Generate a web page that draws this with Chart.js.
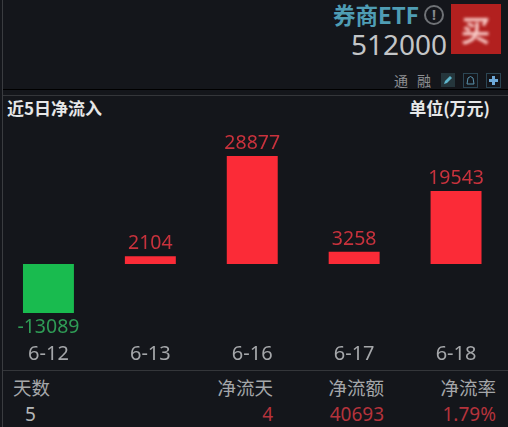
<!DOCTYPE html>
<html><head><meta charset="utf-8">
<script src="https://cdn.jsdelivr.net/npm/chart.js@4/dist/chart.umd.min.js"></script>
<style>
html,body{margin:0;padding:0;background:#14161b;overflow:hidden}
#wrap{position:relative;width:508px;height:427px;background:#14161b;overflow:hidden;font-family:"Noto Sans CJK SC","Noto Sans",sans-serif}
#wrap *{box-sizing:border-box}
.t{position:absolute;white-space:nowrap;line-height:1}
.ln{position:absolute;left:3px;right:0}
canvas{position:absolute;left:-3px;top:100px}
</style></head><body>
<div id="wrap">
<div style="position:absolute;left:2px;top:0;bottom:0;width:1px;background:#3a3c40"></div>
<div class="t" style="right:89px;top:3px;font-size:22.5px;font-weight:700;color:#4f9db4">券商ETF</div>
<div style="position:absolute;left:424px;top:5px;width:20px;height:20px;border:2px solid #6f7276;border-radius:50%;color:#85888c;font:700 14px/16px 'Noto Sans';text-align:center">!</div>
<div class="t" style="right:61px;top:30px;font-size:28px;color:#c3c5c7;font-family:'Noto Sans'">512000</div>
<div style="position:absolute;left:451px;top:4px;width:50px;height:50px;background:#b2201f"></div>
<div class="t" style="left:461px;top:15px;font-size:29px;color:#f7c9c5;font-weight:700;filter:blur(1.5px)">买</div>
<div class="t" style="left:394px;top:73px;font-size:14px;color:#8d8f92">通</div>
<div class="t" style="left:417px;top:73px;font-size:14px;color:#8d8f92">融</div>
<div style="position:absolute;left:441px;top:73px;width:14px;height:14px;background:#25363c"><svg width="14" height="14" style="display:block"><path d="M3 11 L4 8 L9 3 L11 5 L6 10 Z" fill="#5fb6cc"/></svg></div>
<div style="position:absolute;left:463px;top:73px;width:15px;height:15px;border:1px solid #2c4654"><svg width="13" height="13" style="display:block"><path d="M3 10 L4 4 Q6.5 1 9 4 L10 10 Z" fill="none" stroke="#5b93ae"/></svg></div>
<div style="position:absolute;left:486px;top:73px;width:15px;height:15px;border:1px solid #2c4654"><svg width="13" height="13" style="display:block"><path d="M6.5 2 V11 M2 6.5 H11" stroke="#6ea9d8" stroke-width="3"/></svg></div>
<div class="ln" style="top:89px;height:1px;background:#000"></div>
<div class="ln" style="top:95px;height:1px;background:#34363a"></div>
<div class="t" style="left:7px;top:99px;font-size:17px;font-weight:700;color:#e6e7e8">近5日净流入</div>
<div class="t" style="right:18px;top:99px;font-size:17px;font-weight:700;color:#e6e7e8">单位(万元)</div>
<canvas id="c" width="510" height="270" style="width:510px;height:270px"></canvas>
<div class="ln" style="top:370px;height:1px;background:#34363a"></div>
<div class="t" style="left:13px;top:378px;font-size:18.5px;color:#a5a7aa">天数</div>
<div class="t" style="right:235px;top:378px;font-size:18.5px;color:#a5a7aa">净流天</div>
<div class="t" style="right:124px;top:378px;font-size:18.5px;color:#a5a7aa">净流额</div>
<div class="t" style="right:12px;top:378px;font-size:18.5px;color:#a5a7aa">净流率</div>
<div class="t" style="left:25px;top:405px;font-size:19px;color:#b4b6b8;font-family:'Noto Sans'">5</div>
<div class="t" style="right:235px;top:405px;font-size:19px;color:#b5333c;font-family:'Noto Sans'">4</div>
<div class="t" style="right:124px;top:405px;font-size:19px;color:#b5333c;font-family:'Noto Sans'">40693</div>
<div class="t" style="right:12px;top:405px;font-size:19px;color:#b5333c;font-family:'Noto Sans'">1.79%</div>
</div>
<script>
const categories = ["6-12","6-13","6-16","6-17","6-18"];
const netInflow = [-13089,2104,28877,3258,19543];
const upColor = "#fb2b37";
const downColor = "#19bb4f";
const labelPlugin = {
  id:"valueLabels",
  afterDatasetsDraw(chart){
    const ctx = chart.ctx, meta = chart.getDatasetMeta(0);
    ctx.save();
    ctx.font = "19.5px 'Noto Sans'";
    ctx.textAlign = "center";
    meta.data.forEach((bar,i)=>{
      const v = netInflow[i];
      ctx.fillStyle = v<0 ? "#2f9c56" : "#c8323c";
      if(v<0){ctx.textBaseline="top";ctx.fillText(String(v),bar.x,bar.y+5);}
      else{ctx.textBaseline="bottom";ctx.fillText(String(v),bar.x,bar.y-3);}
    });
    ctx.restore();
  }
};
new Chart(document.getElementById("c"),{
  type:"bar",
  data:{labels:categories,datasets:[{data:netInflow,
    backgroundColor:netInflow.map(v=>v<0?downColor:upColor),
    barPercentage:0.5,categoryPercentage:1,borderWidth:0}]},
  plugins:[labelPlugin],
  options:{
    responsive:false,animation:false,devicePixelRatio:1,
    layout:{padding:{left:0.5,right:0,top:0,bottom:0}},
    plugins:{legend:{display:false},tooltip:{enabled:false}},
    scales:{
      x:{grid:{display:false},border:{display:false},
        afterFit(s){s.height=36;},
        ticks:{color:"#a5a7aa",font:{size:20,family:"'Noto Sans'"},padding:0,maxRotation:0}},
      y:{display:false,min:-18717,max:43850}
    }
  }
});
</script>
</body></html>
